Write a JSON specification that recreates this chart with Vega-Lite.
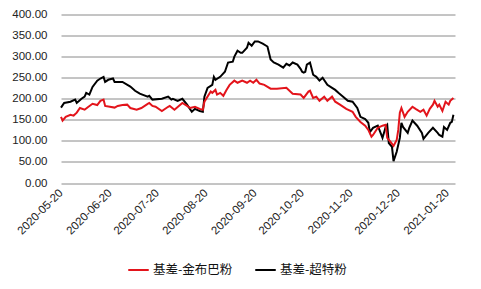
{
  "$schema": "https://vega.github.io/schema/vega-lite/v6.json",
  "autosize": {"type": "none"},
  "width": 394,
  "height": 168.5,
  "padding": {"left": 61, "top": 14.5, "right": 26, "bottom": 106},
  "background": "white",
  "config": {
    "view": {"stroke": null},
    "font": "Liberation Sans"
  },
  "datasets": {
    "red": [
      {"date":"2020-05-20","v":157},{"date":"2020-05-21","v":148},{"date":"2020-05-23","v":157},{"date":"2020-05-26","v":162},{"date":"2020-05-28","v":160},{"date":"2020-05-30","v":167},{"date":"2020-06-01","v":178},{"date":"2020-06-04","v":174},{"date":"2020-06-06","v":180},{"date":"2020-06-09","v":188},{"date":"2020-06-12","v":185},{"date":"2020-06-14","v":195},{"date":"2020-06-16","v":198},{"date":"2020-06-17","v":183},{"date":"2020-06-20","v":181},{"date":"2020-06-23","v":179},{"date":"2020-06-25","v":183},{"date":"2020-06-28","v":185},{"date":"2020-07-01","v":186},{"date":"2020-07-03","v":178},{"date":"2020-07-07","v":174},{"date":"2020-07-10","v":178},{"date":"2020-07-14","v":188},{"date":"2020-07-15","v":190},{"date":"2020-07-17","v":183},{"date":"2020-07-19","v":181},{"date":"2020-07-23","v":171},{"date":"2020-07-27","v":181},{"date":"2020-07-28","v":183},{"date":"2020-07-31","v":174},{"date":"2020-08-05","v":190},{"date":"2020-08-08","v":183},{"date":"2020-08-10","v":178},{"date":"2020-08-13","v":181},{"date":"2020-08-16","v":176},{"date":"2020-08-18","v":174},{"date":"2020-08-19","v":193},{"date":"2020-08-23","v":217},{"date":"2020-08-24","v":214},{"date":"2020-08-26","v":221},{"date":"2020-08-27","v":210},{"date":"2020-08-29","v":214},{"date":"2020-08-31","v":207},{"date":"2020-09-02","v":221},{"date":"2020-09-04","v":233},{"date":"2020-09-07","v":243},{"date":"2020-09-09","v":238},{"date":"2020-09-12","v":243},{"date":"2020-09-15","v":238},{"date":"2020-09-17","v":243},{"date":"2020-09-19","v":238},{"date":"2020-09-21","v":245},{"date":"2020-09-23","v":236},{"date":"2020-09-26","v":233},{"date":"2020-09-30","v":224},{"date":"2020-10-04","v":224},{"date":"2020-10-10","v":226},{"date":"2020-10-14","v":212},{"date":"2020-10-19","v":210},{"date":"2020-10-21","v":202},{"date":"2020-10-24","v":217},{"date":"2020-10-25","v":219},{"date":"2020-10-27","v":202},{"date":"2020-10-29","v":205},{"date":"2020-10-31","v":195},{"date":"2020-11-03","v":205},{"date":"2020-11-05","v":195},{"date":"2020-11-08","v":205},{"date":"2020-11-10","v":193},{"date":"2020-11-13","v":186},{"date":"2020-11-17","v":176},{"date":"2020-11-21","v":169},{"date":"2020-11-23","v":157},{"date":"2020-11-26","v":145},{"date":"2020-11-29","v":136},{"date":"2020-12-01","v":126},{"date":"2020-12-03","v":110},{"date":"2020-12-04","v":114},{"date":"2020-12-07","v":131},{"date":"2020-12-10","v":136},{"date":"2020-12-12","v":138},{"date":"2020-12-13","v":107},{"date":"2020-12-15","v":98},{"date":"2020-12-17","v":88},{"date":"2020-12-19","v":102},{"date":"2020-12-20","v":126},{"date":"2020-12-21","v":167},{"date":"2020-12-22","v":178},{"date":"2020-12-24","v":157},{"date":"2020-12-26","v":169},{"date":"2020-12-29","v":181},{"date":"2020-12-31","v":176},{"date":"2021-01-03","v":169},{"date":"2021-01-05","v":174},{"date":"2021-01-07","v":160},{"date":"2021-01-09","v":176},{"date":"2021-01-11","v":186},{"date":"2021-01-12","v":195},{"date":"2021-01-14","v":181},{"date":"2021-01-15","v":186},{"date":"2021-01-17","v":171},{"date":"2021-01-19","v":193},{"date":"2021-01-21","v":186},{"date":"2021-01-22","v":195},{"date":"2021-01-24","v":202}
    ],
    "black": [
      {"date":"2020-05-20","v":179},{"date":"2020-05-22","v":190},{"date":"2020-05-26","v":193},{"date":"2020-05-29","v":198},{"date":"2020-05-30","v":190},{"date":"2020-06-02","v":200},{"date":"2020-06-04","v":205},{"date":"2020-06-05","v":214},{"date":"2020-06-07","v":210},{"date":"2020-06-09","v":228},{"date":"2020-06-12","v":243},{"date":"2020-06-14","v":248},{"date":"2020-06-16","v":252},{"date":"2020-06-17","v":240},{"date":"2020-06-19","v":245},{"date":"2020-06-22","v":248},{"date":"2020-06-23","v":240},{"date":"2020-06-28","v":240},{"date":"2020-07-03","v":229},{"date":"2020-07-06","v":219},{"date":"2020-07-09","v":212},{"date":"2020-07-14","v":205},{"date":"2020-07-15","v":207},{"date":"2020-07-17","v":198},{"date":"2020-07-23","v":200},{"date":"2020-07-27","v":205},{"date":"2020-07-29","v":198},{"date":"2020-07-30","v":200},{"date":"2020-08-02","v":195},{"date":"2020-08-05","v":200},{"date":"2020-08-08","v":186},{"date":"2020-08-11","v":169},{"date":"2020-08-13","v":176},{"date":"2020-08-16","v":171},{"date":"2020-08-18","v":169},{"date":"2020-08-19","v":205},{"date":"2020-08-21","v":226},{"date":"2020-08-24","v":233},{"date":"2020-08-25","v":252},{"date":"2020-08-26","v":245},{"date":"2020-08-29","v":252},{"date":"2020-09-01","v":264},{"date":"2020-09-03","v":286},{"date":"2020-09-06","v":288},{"date":"2020-09-07","v":300},{"date":"2020-09-09","v":314},{"date":"2020-09-11","v":309},{"date":"2020-09-12","v":309},{"date":"2020-09-15","v":321},{"date":"2020-09-16","v":333},{"date":"2020-09-18","v":326},{"date":"2020-09-20","v":336},{"date":"2020-09-22","v":336},{"date":"2020-09-25","v":331},{"date":"2020-09-28","v":324},{"date":"2020-09-30","v":293},{"date":"2020-10-02","v":286},{"date":"2020-10-05","v":281},{"date":"2020-10-08","v":274},{"date":"2020-10-10","v":283},{"date":"2020-10-12","v":279},{"date":"2020-10-14","v":286},{"date":"2020-10-17","v":281},{"date":"2020-10-19","v":271},{"date":"2020-10-20","v":264},{"date":"2020-10-21","v":262},{"date":"2020-10-22","v":264},{"date":"2020-10-23","v":281},{"date":"2020-10-25","v":286},{"date":"2020-10-27","v":257},{"date":"2020-10-29","v":252},{"date":"2020-10-31","v":243},{"date":"2020-11-02","v":250},{"date":"2020-11-05","v":233},{"date":"2020-11-08","v":226},{"date":"2020-11-10","v":221},{"date":"2020-11-12","v":214},{"date":"2020-11-15","v":205},{"date":"2020-11-18","v":195},{"date":"2020-11-21","v":193},{"date":"2020-11-24","v":178},{"date":"2020-11-26","v":157},{"date":"2020-11-29","v":152},{"date":"2020-12-01","v":143},{"date":"2020-12-02","v":121},{"date":"2020-12-04","v":131},{"date":"2020-12-07","v":136},{"date":"2020-12-10","v":107},{"date":"2020-12-12","v":133},{"date":"2020-12-13","v":138},{"date":"2020-12-14","v":95},{"date":"2020-12-16","v":86},{"date":"2020-12-17","v":52},{"date":"2020-12-19","v":74},{"date":"2020-12-21","v":107},{"date":"2020-12-22","v":143},{"date":"2020-12-23","v":133},{"date":"2020-12-26","v":119},{"date":"2020-12-27","v":131},{"date":"2020-12-29","v":148},{"date":"2021-01-01","v":136},{"date":"2021-01-04","v":119},{"date":"2021-01-05","v":105},{"date":"2021-01-08","v":119},{"date":"2021-01-11","v":131},{"date":"2021-01-14","v":119},{"date":"2021-01-15","v":114},{"date":"2021-01-17","v":110},{"date":"2021-01-18","v":133},{"date":"2021-01-20","v":126},{"date":"2021-01-22","v":143},{"date":"2021-01-23","v":145},{"date":"2021-01-24","v":162}
    ]
  },
  "encoding": {
    "x": {
      "field": "date", "type": "temporal", "title": null,
      "scale": {"type": "utc", "domain": [{"year": 2020, "month": 5, "date": 20, "utc": true}, {"year": 2021, "month": 1, "date": 25, "utc": true}]},
      "axis": {
        "values": [
          {"year": 2020, "month": 5, "date": 20, "utc": true},
          {"year": 2020, "month": 6, "date": 20, "utc": true},
          {"year": 2020, "month": 7, "date": 20, "utc": true},
          {"year": 2020, "month": 8, "date": 20, "utc": true},
          {"year": 2020, "month": 9, "date": 20, "utc": true},
          {"year": 2020, "month": 10, "date": 20, "utc": true},
          {"year": 2020, "month": 11, "date": 20, "utc": true},
          {"year": 2020, "month": 12, "date": 20, "utc": true},
          {"year": 2021, "month": 1, "date": 20, "utc": true}
        ],
        "labelExpr": "utcFormat(datum.value, '%Y-%m-%d')",
        "labelAngle": -45, "labelAlign": "right", "labelBaseline": "middle",
        "labelPadding": 8, "labelFontSize": 11.5, "labelColor": "#222222",
        "ticks": false, "domain": false, "grid": false, "labelOverlap": false
      }
    },
    "y": {
      "field": "v", "type": "quantitative", "title": null,
      "scale": {"domain": [0, 400], "nice": false},
      "axis": {
        "values": [0, 50, 100, 150, 200, 250, 300, 350, 400],
        "format": ".2f", "labelFontSize": 11.5, "labelColor": "#222222",
        "labelPadding": 14, "ticks": false, "domain": false,
        "gridColor": "#8a8a8a", "gridWidth": 1, "gridOpacity": 1
      }
    },
    "color": {
      "field": "series", "type": "nominal",
      "scale": {"domain": ["基差-金布巴粉", "基差-超特粉"], "range": ["#e3141b", "#000000"]},
      "legend": {
        "title": null, "orient": "none", "direction": "horizontal",
        "legendX": 66, "legendY": 244,
        "symbolType": "stroke", "symbolSize": 420, "symbolStrokeWidth": 2,
        "labelFont": "Noto Sans CJK SC", "labelFontSize": 12.5, "labelColor": "#111111",
        "columnPadding": 18, "labelOffset": 3
      }
    }
  },
  "layer": [
    {
      "data": {"name": "black"},
      "transform": [{"calculate": "'基差-超特粉'", "as": "series"}],
      "mark": {"type": "line", "strokeWidth": 2}
    },
    {
      "data": {"name": "red"},
      "transform": [{"calculate": "'基差-金布巴粉'", "as": "series"}],
      "mark": {"type": "line", "strokeWidth": 2}
    }
  ]
}
